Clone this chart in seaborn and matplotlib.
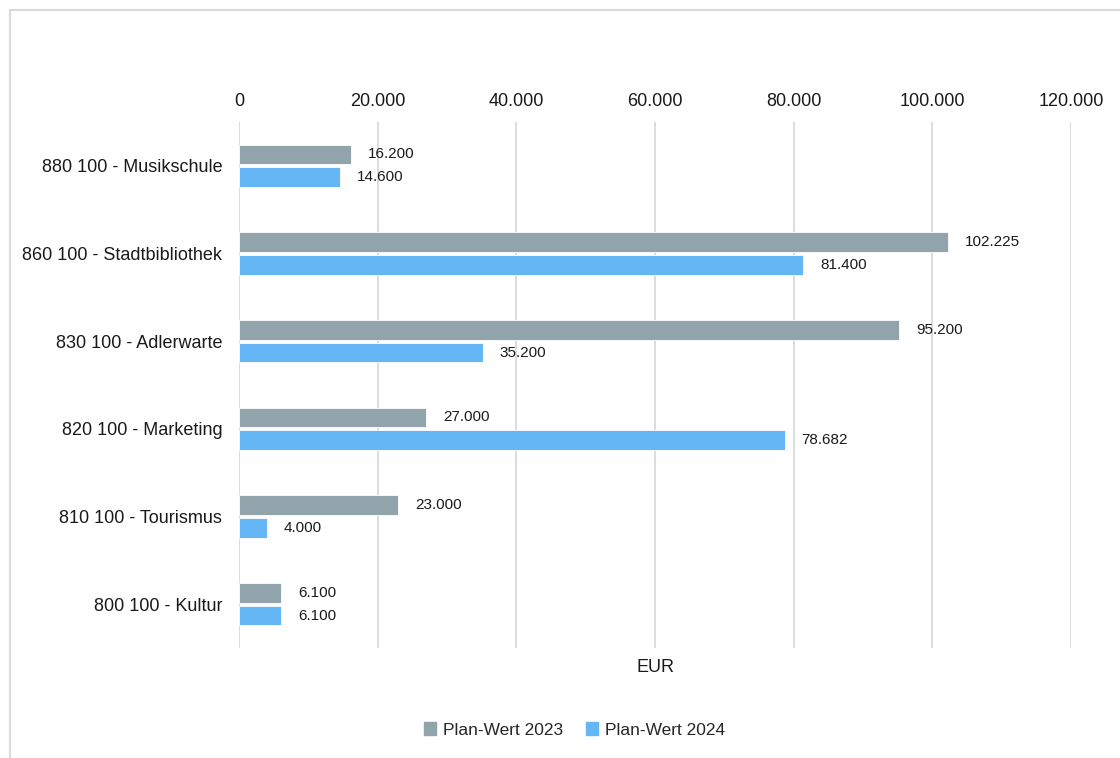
import numpy as np
import matplotlib
matplotlib.use('Agg')
import matplotlib.pyplot as plt
import pandas as pd
import seaborn as sns
from matplotlib.patches import Rectangle
from matplotlib.ticker import FuncFormatter

# Daten
kostenstellen = ['880 100 - Musikschule', '860 100 - Stadtbibliothek', '830 100 - Adlerwarte',
                 '820 100 - Marketing', '810 100 - Tourismus', '800 100 - Kultur']
plan_2023 = [16200, 102225, 95200, 27000, 23000, 6100]
plan_2024 = [14600, 81400, 35200, 78682, 4000, 6100]
serien = ['Plan-Wert 2023', 'Plan-Wert 2024']
farben = ['#91A3AB', '#64B6F4']

df = pd.DataFrame({
    'kostenstelle': kostenstellen * 2,
    'wert': plan_2023 + plan_2024,
    'serie': [serien[0]] * len(plan_2023) + [serien[1]] * len(plan_2024),
})

sns.set_theme(style='white')
plt.rcParams['font.family'] = ['Liberation Sans', 'DejaVu Sans']

fig = plt.figure(figsize=(11.2, 7.58), dpi=100)
ax = fig.add_axes([0.2134, 0.1451, 0.7429, 0.6939])

sns.barplot(data=df, x='wert', y='kostenstelle', hue='serie', order=kostenstellen,
            hue_order=serien, palette=farben, saturation=1, orient='h', width=0.52,
            gap=0.14, edgecolor='white', linewidth=0.6, ax=ax, legend=True)


def de_format(v, pos=None):
    return f'{v:,.0f}'.replace(',', '.')


for cont in ax.containers:
    ax.bar_label(cont, labels=[de_format(b.get_width()) for b in cont],
                 padding=12, fontsize=11, color='#1a1a1a')

ax.set_xlim(0, 120000)
ax.set_xticks(np.arange(0, 120001, 20000))
ax.xaxis.set_major_formatter(FuncFormatter(de_format))
ax.xaxis.tick_top()
ax.tick_params(axis='x', length=0, pad=9, labelsize=13, labelcolor='#1a1a1a')
ax.tick_params(axis='y', length=0, pad=12, labelsize=13, labelcolor='#1a1a1a')
ax.grid(axis='x', color='#D9D9D9', linewidth=1.3)
ax.set_axisbelow(True)
for s in ax.spines.values():
    s.set_visible(False)
ax.set_ylabel('')
ax.set_xlabel('EUR', fontsize=13, color='#1a1a1a', labelpad=8)
ax.xaxis.set_label_position('bottom')

ax.get_legend().remove()
handles = [plt.Rectangle((0, 0), 1, 1, color=c) for c in farben]
fig.legend(handles, serien, loc='center', bbox_to_anchor=(0.513, 0.037), ncol=2,
           frameon=False, fontsize=12.5, handlelength=0.7, handleheight=0.7,
           handletextpad=0.4, columnspacing=1.3)

fig.patches.append(Rectangle((10 / 1120, -0.05), 1.1, 1 - 10 / 758 + 0.05,
                             transform=fig.transFigure, fill=False,
                             edgecolor='#D9D9D9', linewidth=1.5))

fig.savefig('out.png', dpi=100)
